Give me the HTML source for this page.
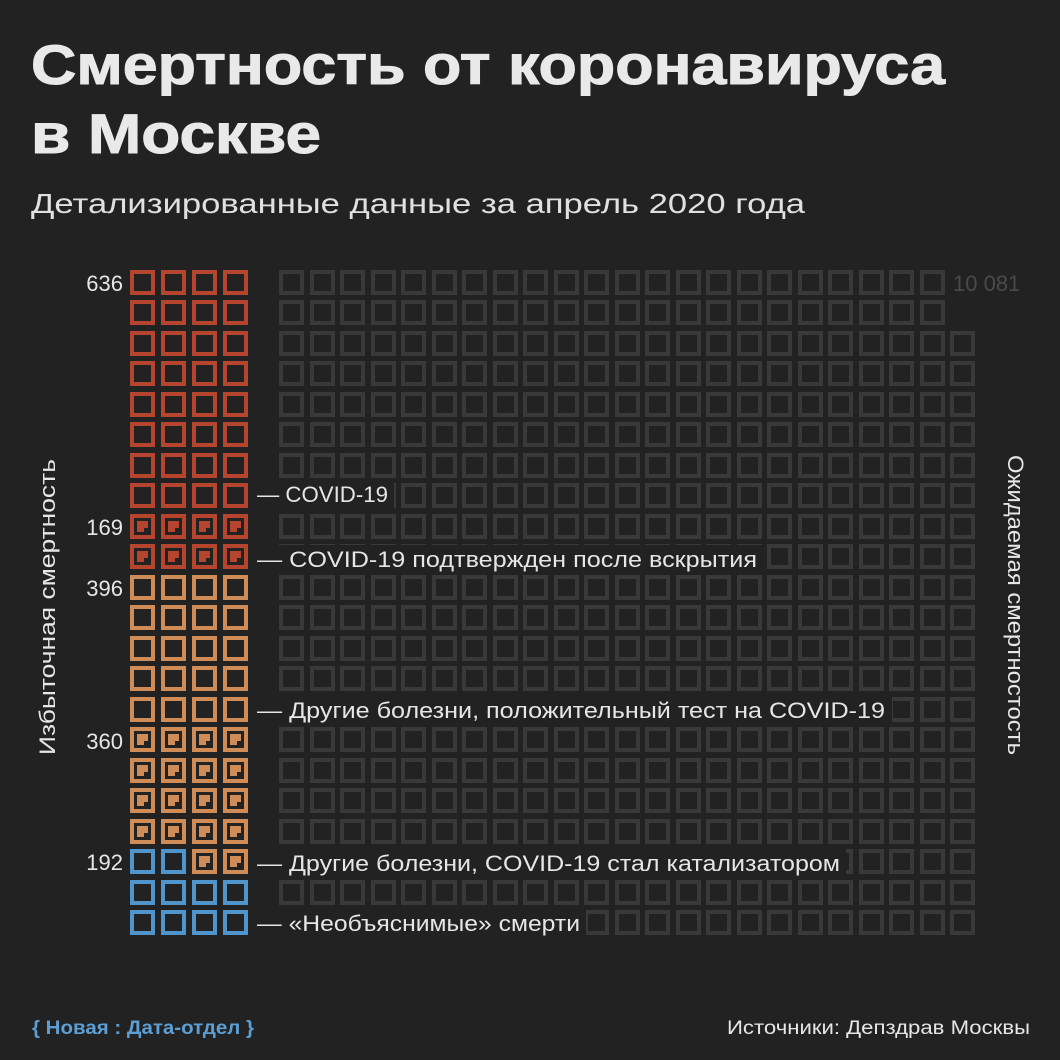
<!DOCTYPE html>
<html><head><meta charset="utf-8">
<style>
html,body{margin:0;padding:0;background:#222222;}
svg{display:block;}
text{font-family:"Liberation Sans","DejaVu Sans",sans-serif;}
</style></head>
<body>
<svg id="s" width="1060" height="1060" viewBox="0 0 1060 1060" xmlns="http://www.w3.org/2000/svg">
<rect width="1060" height="1060" fill="#222222"/>
<text x="31" y="84" font-size="56" font-weight="bold" fill="#e9e9e9" textLength="914" lengthAdjust="spacingAndGlyphs" stroke="#e9e9e9" stroke-width="1">Смертность от коронавируса</text>
<text x="31" y="153" font-size="56" font-weight="bold" fill="#e9e9e9" textLength="290" lengthAdjust="spacingAndGlyphs" stroke="#e9e9e9" stroke-width="1">в Москве</text>
<text x="31" y="213" font-size="28" fill="#e0e0e0" textLength="774" lengthAdjust="spacingAndGlyphs">Детализированные данные за апрель 2020 года</text>
<g id="grid"></g>
<g fill="#222222">
<rect x="252" y="480" width="142" height="28"/>
<rect x="252" y="545" width="512" height="28"/>
<rect x="252" y="696" width="640" height="28"/>
<rect x="252" y="849" width="594" height="28"/>
<rect x="252" y="909" width="334" height="28"/>
</g>
<g font-size="22" fill="#e6e6e6" text-anchor="end">
<text x="123" y="291">636</text>
<text x="123" y="535">169</text>
<text x="123" y="596">396</text>
<text x="123" y="749">360</text>
<text x="123" y="870">192</text>
</g>
<text x="953" y="291" font-size="22" fill="#4a4a4a">10 081</text>
<g font-size="22" fill="#e6e6e6">
<text x="257" y="502" textLength="131" lengthAdjust="spacingAndGlyphs">— COVID-19</text>
<text x="257" y="567" textLength="500" lengthAdjust="spacingAndGlyphs">— COVID-19 подтвержден после вскрытия</text>
<text x="257" y="718" textLength="628" lengthAdjust="spacingAndGlyphs">— Другие болезни, положительный тест на COVID-19</text>
<text x="257" y="871" textLength="583" lengthAdjust="spacingAndGlyphs">— Другие болезни, COVID-19 стал катализатором</text>
<text x="257" y="931" textLength="323" lengthAdjust="spacingAndGlyphs">— «Необъяснимые» смерти</text>
</g>
<text transform="translate(55,755) rotate(-90)" font-size="22" fill="#e6e6e6" textLength="296" lengthAdjust="spacingAndGlyphs">Избыточная смертность</text>
<text transform="translate(1008,455) rotate(90)" font-size="22" fill="#e6e6e6" textLength="300" lengthAdjust="spacingAndGlyphs">Ожидаемая смертностость</text>
<text x="32" y="1034" font-size="19" font-weight="bold" fill="#5b9fd4" textLength="222" lengthAdjust="spacingAndGlyphs">{ Новая : Дата-отдел }</text>
<text x="1030" y="1034" font-size="19" fill="#e6e6e6" text-anchor="end" textLength="303" lengthAdjust="spacingAndGlyphs">Источники: Депздрав Москвы</text>
</svg>
<script>
(function(){
var g=document.getElementById('grid'),h='';
var RED='#b5452e',OR='#d08c57',BL='#4f95cb',GR='#393939';
function sq(x,y,c,fill){
  h+='<rect x="'+(x+2)+'" y="'+(y+2)+'" width="21" height="21" fill="none" stroke="'+c+'" stroke-width="4"/>';
  if(fill){var a=x+7,b=y+7;
    h+='<path d="M'+a+' '+b+'h11v7h-4v4h-7z" fill="'+c+'"/>';}
}
for(var r=0;r<22;r++){
  var y=Math.round(270+r*30.48);
  for(var c=0;c<4;c++){
    var x=130+c*31,col,f=false;
    if(r<10){col=RED;f=(r>=8);}
    else if(r<19){col=OR;f=(r>=15);}
    else if(r==19){if(c<2){col=BL;}else{col=OR;f=true;}}
    else col=BL;
    sq(x,y,col,f);
  }
  var n=r<2?22:23;
  for(var c=0;c<n;c++){sq(Math.round(279+c*30.52),y,GR,false);}
}
g.innerHTML=h;
})();
</script>
</body></html>
